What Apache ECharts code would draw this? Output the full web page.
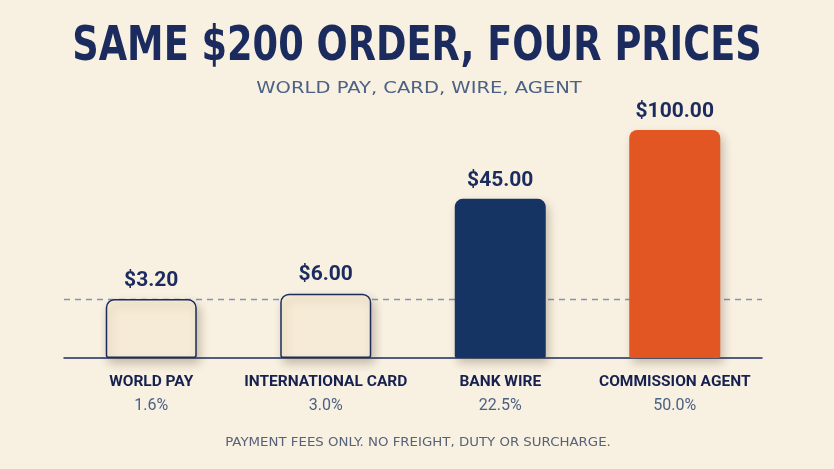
<!DOCTYPE html>
<html>
<head>
<meta charset="utf-8">
<style>
  html, body { margin: 0; padding: 0; background: #f8f0e1; }
  #chart { width: 834px; height: 469px; }
</style>
<script src="https://cdn.jsdelivr.net/npm/echarts@6/dist/echarts.min.js"></script>
</head>
<body>
<div id="chart"></div>
<script>
// ---- data ----
const categories = ['WORLD PAY', 'INTERNATIONAL CARD', 'BANK WIRE', 'COMMISSION AGENT'];
const feeRates = ['1.6%', '3.0%', '22.5%', '50.0%'];
const feeAmounts = [3.20, 6.00, 45.00, 100.00];
const titleText = 'SAME $200 ORDER, FOUR PRICES';
const subtitleText = 'WORLD PAY, CARD, WIRE, AGENT';
const footnoteText = 'PAYMENT FEES ONLY. NO FREIGHT, DUTY OR SURCHARGE.';

// ---- styles ----
const NAVY = '#1b2b5e';
const barStyles = [
  { color: '#f6ebd6', borderColor: NAVY, borderWidth: 1.5 },
  { color: '#f6ebd6', borderColor: NAVY, borderWidth: 1.5 },
  { color: '#163463', borderColor: '#163463', borderWidth: 0 },
  { color: '#e15623', borderColor: '#e15623', borderWidth: 0 }
];
// compressed power scale (the picture is not drawn to linear scale)
const POWER = 0.45;
const scaleFee = v => Math.pow(v, POWER);
const yMax = scaleFee(Math.max(...feeAmounts));
const GRID_TOP = 130, GRID_BOTTOM = 111, GRID_H = 469 - GRID_TOP - GRID_BOTTOM;
const MIN_BAR = 59;

const chart = echarts.init(document.getElementById('chart'));
chart.setOption({
  backgroundColor: '#f8f0e1',
  animation: false,
  graphic: [
    { type: 'text', x: 417, y: 48, scaleX: 0.765, silent: true,
      style: { text: titleText, align: 'center', verticalAlign: 'middle',
        font: 'bold 48px "DejaVu Sans"', fill: NAVY } },
    { type: 'text', x: 419, y: 89, scaleX: 1.22, silent: true,
      style: { text: subtitleText, align: 'center', verticalAlign: 'middle',
        font: '16px "DejaVu Sans"', fill: '#4b6185' } },
    { type: 'text', x: 418, y: 443, scaleX: 1.11, silent: true,
      style: { text: footnoteText, align: 'center', verticalAlign: 'middle',
        font: '12px "DejaVu Sans"', fill: '#55627a' } }
  ],
  grid: { left: 64, right: 72, top: GRID_TOP, bottom: GRID_BOTTOM },
  xAxis: {
    type: 'category',
    data: categories,
    axisLine: { lineStyle: { color: NAVY, width: 1.5 } },
    axisTick: { show: false },
    axisLabel: {
      interval: 0,
      margin: 13,
      formatter: (v, i) => '{n|' + v + '}\n{p|' + feeRates[i] + '}',
      rich: {
        n: { fontFamily: 'Roboto', fontWeight: 'bold', fontSize: 15.5, color: '#16214f', lineHeight: 23 },
        p: { fontFamily: 'Roboto', fontWeight: 'normal', fontSize: 16, color: '#4b6185', lineHeight: 23 }
      }
    }
  },
  yAxis: { type: 'value', min: 0, max: yMax, show: false, splitLine: { show: false } },
  series: [
    {
      type: 'bar',
      z: 1,
      data: [],
      markLine: {
        z: 0,
        silent: true, symbol: 'none', label: { show: false },
        lineStyle: { color: '#8294b3', type: [6, 5], width: 1.4 },
        data: [{ yAxis: yMax * MIN_BAR / GRID_H }]
      }
    },
    {
      type: 'bar',
      z: 3,
      barWidth: 91,
      barMinHeight: MIN_BAR,
      data: feeAmounts.map((v, i) => ({
        value: scaleFee(v),
        itemStyle: Object.assign({
          borderRadius: [8, 8, 2, 2],
          shadowBlur: 10, shadowOffsetX: 3, shadowOffsetY: 5,
          shadowColor: 'rgba(70,50,20,0.28)'
        }, barStyles[i])
      })),
      label: {
        show: true, position: 'top', distance: 8,
        formatter: p => '$' + feeAmounts[p.dataIndex].toFixed(2),
        fontFamily: 'Roboto', fontWeight: 'bold', fontSize: 21, color: NAVY
      }
    }
  ]
});
</script>
</body>
</html>
